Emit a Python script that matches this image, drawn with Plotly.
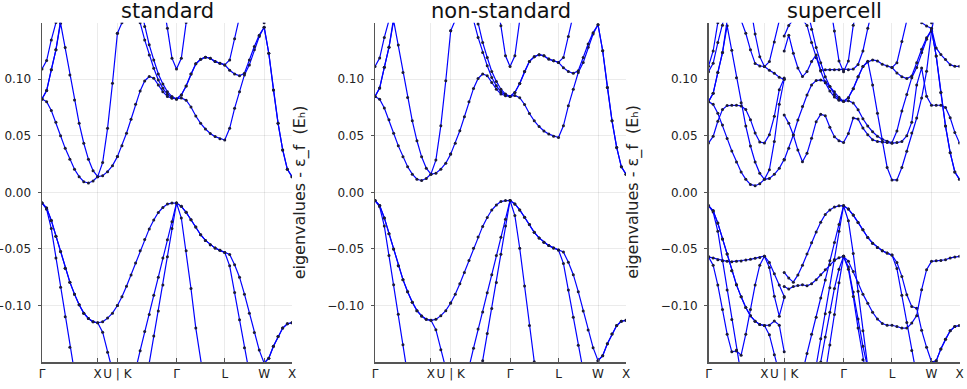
import plotly.graph_objects as go

# ---------------- k-path description ----------------
SEG_LEN = [1.0, 0.35355, 1.06066, 0.86603, 0.70711, 0.5]   # Γ-X, X-U, K-Γ, Γ-L, L-W, W-X
SEG_N = [12, 4, 13, 10, 8, 6]                                # intervals per segment
TICK_LABELS = ["Γ", "X", "U | K", "Γ", "L", "W", "X"]
PANEL_TITLES = ["standard", "non-standard", "supercell"]

# ---------------- eigenvalues (mEh), branch A: Γ→X→U (17 pts), branch B: K→Γ→L→W→X (38 pts) ----
# panel 1: standard
S_A2 = [-9.4, -15, -32, -58, -84, -110, -137, -163, -190, -210, -222, -228, -230, -228, -222, -215, -210]
S_A3 = [-9.4, -13.9, -24.8, -38.9, -52.2, -67, -79.4, -90, -99.4, -106.8, -111.5, -114.5, -115.3, -123.6, -141.3, -159, -175]
S_A4 = [-9.4, -13.9, -24.8, -38.9, -52.2, -67, -79.4, -90, -99.4, -106.8, -111.5, -114.5, -115.3, -114.5, -111.2, -106.8, -100]
S_A5 = [82.6, 80.2, 72.3, 61.9, 50.1, 38.9, 29.2, 20.4, 13.9, 9.4, 8.3, 10, 13.9, 14.7, 18.3, 23.6, 31.6]
S_A6 = [82.6, 90, 108.3, 126, 149.6, 128, 103.8, 81.7, 61, 43.4, 29.2, 19.2, 13.9, 26.3, 56.6, 96.5, 140.7]
S_A7 = [82.6, 90, 108.3, 126, 152, 168, 180, 190, 200, 210, 215, 218, 220, 215, 205, 195, 185]
S_A8 = [109.1, 116.5, 134.8, 150.1, 165, 175, 185, 195, 205, 215, 222, 226, 228, 226, 222, 218, 215]
S_B2 = [-210, -205, -200, -195, -190, -185, -180, -151, -127, -105, -82, -57, -32, -9.4,
        -22.7, -51.6, -85, -120, -152, -175, -195, -210, -220, -225,
        -228, -230, -235, -240, -245, -250, -250, -250, -248, -245, -240, -235, -232, -230]
S_B3 = [-175, -172, -168, -163, -157, -140, -123, -108, -91, -75, -58, -42, -26, -9.4,
        -12.4, -17.7, -24.2, -30.7, -37.5, -42.5, -46.3, -49.3, -51.3, -53.1,
        -65, -88.5, -112.7, -137.5, -160, -165, -160, -151, -146.6, -136, -127.4, -120, -116.2, -115.3]
S_B4 = [-100, -92.3, -83, -73, -62.5, -51.7, -41.6, -32.3, -24.4, -17.8, -13.4, -10.4, -9.5, -9.4,
        -12.4, -17.7, -24.2, -30.7, -37.5, -42.5, -46.3, -49.3, -51.3, -53.1,
        -55, -64, -75, -90, -107, -124, -139.5, -151, -146.6, -136, -127.4, -120, -116.2, -115.3]
S_B5 = [31.6, 41.3, 52.2, 64.6, 77.9, 89.7, 98.5, 102.4, 100.9, 95, 89, 84.7, 83.2, 82.6,
        83.5, 81.5, 75.5, 67.5, 61, 56, 52, 49.3, 47.5, 46.3,
        56.6, 74.3, 89, 103.8, 112.7, 126, 137.8, 146, 123, 90.6, 61, 37.5, 20.4, 13.9]
S_B6 = [140.7, 150, 155, 157, 155, 150, 134.8, 121.5, 109.7, 99.4, 92, 86.7, 83.8, 82.6,
        86.1, 94.1, 104.7, 113.6, 117.7, 119.5, 118.6, 115.6, 114.2, 112.7,
        108, 104.7, 103, 105.3, 117, 129, 139, 146, 123, 90.6, 61, 37.5, 20.4, 13.9]
S_B7 = [160, 165, 170, 172, 170, 165, 146.6, 130.4, 117, 104.7, 95.9, 89, 84.7, 82.6,
        86.1, 94.1, 104.7, 113.6, 117.7, 119.5, 118.6, 115.6, 114.2, 112.7,
        117, 135.7, 155, 165, 165, 160, 155, 150, 165, 175, 185, 190, 195, 198]
S_B8 = [190, 195, 198, 200, 198, 195, 190, 185, 180, 175, 170, 145, 118.6, 109.1,
        118.6, 150.1, 170, 185, 195, 200, 205, 205, 205, 205,
        200, 195, 190, 185, 180, 175, 170, 165, 170, 180, 190, 195, 198, 200]

# panel 2: non-standard
N_A2 = [-7.2, -12.8, -29.8, -55.8, -81.8, -107.8, -134.8, -160.8, -187.8, -207.8, -219.8, -225.8, -227.8, -225.8, -219.8, -212.8, -207.8]
N_A3 = [-7.2, -11.7, -22.6, -36.7, -50, -64.8, -77.2, -87.8, -97.2, -104.6, -109.3, -112.3, -113.1, -121.4, -139.1, -156.8, -172.8]
N_A4 = [-7.2, -11.7, -22.6, -36.7, -50, -64.8, -77.2, -87.8, -97.2, -104.6, -109.3, -112.3, -113.1, -112.3, -109, -104.6, -97.8]
N_A5 = [84.8, 82.4, 74.5, 64.1, 52.3, 41.1, 31.4, 22.6, 16.1, 11.6, 10.5, 12.2, 16.1, 16.9, 20.5, 25.8, 33.8]
N_A6 = [84.8, 92.2, 110.5, 128.2, 151.8, 130.2, 106, 83.9, 63.2, 45.6, 31.4, 21.4, 16.1, 28.5, 58.8, 98.7, 142.9]
N_A7 = [84.8, 92.2, 110.5, 128.2, 154.2, 170.2, 182.2, 192.2, 202.2, 212.2, 217.2, 220.2, 222.2, 217.2, 207.2, 197.2, 187.2]
N_A8 = [111.3, 118.7, 137, 152.3, 167.2, 177.2, 187.2, 197.2, 207.2, 217.2, 224.2, 228.2, 230.2, 228.2, 224.2, 220.2, 217.2]
N_B2 = [-207.8, -202.8, -197.8, -192.8, -187.8, -182.8, -177.8, -148.8, -124.8, -102.8, -79.8, -54.8, -29.8, -7.2,
        -20.5, -49.4, -82.8, -117.8, -149.8, -172.8, -192.8, -207.8, -217.8, -222.8,
        -225.8, -227.8, -232.8, -237.8, -242.8, -247.8, -247.8, -247.8, -245.8, -242.8, -237.8, -232.8, -229.8, -227.8]
N_B3 = [-172.8, -169.8, -165.8, -160.8, -154.8, -137.8, -120.8, -105.8, -88.8, -72.8, -55.8, -39.8, -23.8, -7.2,
        -10.2, -15.5, -22, -28.5, -35.3, -40.3, -44.1, -47.1, -49.1, -50.9,
        -62.8, -86.3, -110.5, -135.3, -157.8, -162.8, -157.8, -148.8, -144.4, -133.8, -125.2, -117.8, -114, -113.1]
N_B4 = [-97.8, -90.1, -80.8, -70.8, -60.3, -49.5, -39.4, -30.1, -22.2, -15.6, -11.2, -8.2, -7.3, -7.2,
        -10.2, -15.5, -22, -28.5, -35.3, -40.3, -44.1, -47.1, -49.1, -50.9,
        -52.8, -61.8, -72.8, -87.8, -104.8, -121.8, -137.3, -148.8, -144.4, -133.8, -125.2, -117.8, -114, -113.1]
N_B5 = [33.8, 43.5, 54.4, 66.8, 80.1, 91.9, 100.7, 104.6, 103.1, 97.2, 91.2, 86.9, 85.4, 84.8,
        85.7, 83.7, 77.7, 69.7, 63.2, 58.2, 54.2, 51.5, 49.7, 48.5,
        58.8, 76.5, 91.2, 106, 114.9, 128.2, 140, 148.2, 125.2, 92.8, 63.2, 39.7, 22.6, 16.1]
N_B6 = [142.9, 152.2, 157.2, 159.2, 157.2, 152.2, 137, 123.7, 111.9, 101.6, 94.2, 88.9, 86, 84.8,
        88.3, 96.3, 106.9, 115.8, 119.9, 121.7, 120.8, 117.8, 116.4, 114.9,
        110.2, 106.9, 105.2, 107.5, 119.2, 131.2, 141.2, 148.2, 125.2, 92.8, 63.2, 39.7, 22.6, 16.1]
N_B7 = [162.2, 167.2, 172.2, 174.2, 172.2, 167.2, 148.8, 132.6, 119.2, 106.9, 98.1, 91.2, 86.9, 84.8,
        88.3, 96.3, 106.9, 115.8, 119.9, 121.7, 120.8, 117.8, 116.4, 114.9,
        119.2, 137.9, 157.2, 167.2, 167.2, 162.2, 157.2, 152.2, 167.2, 177.2, 187.2, 192.2, 197.2, 200.2]
N_B8 = [192.2, 197.2, 200.2, 202.2, 200.2, 197.2, 192.2, 187.2, 182.2, 177.2, 172.2, 147.2, 120.8, 111.3,
        120.8, 152.3, 172.2, 187.2, 197.2, 202.2, 207.2, 207.2, 207.2, 207.2,
        202.2, 197.2, 192.2, 187.2, 182.2, 177.2, 172.2, 167.2, 172.2, 182.2, 192.2, 197.2, 200.2, 202.2]

# panel 3: supercell
X_A2 = [-11.8, -17.4, -34.4, -60.4, -86.4, -112.4, -139.4, -165.4, -192.4, -212.4, -224.4, -230.4, -232.4, -230.4, -224.4, -217.4, -212.4]
X_A3 = [-11.8, -16.3, -27.2, -41.3, -54.6, -69.4, -81.8, -92.4, -101.8, -109.2, -113.9, -116.9, -117.7, -126, -143.7, -161.4, -177.4]
X_A4 = [-11.8, -16.3, -27.2, -41.3, -54.6, -69.4, -81.8, -92.4, -101.8, -109.2, -113.9, -116.9, -117.7, -117.4, -113.7, -117.4, -141]
X_AV1 = [-57, -58, -59.5, -60.5, -61, -61.3, -61, -60.7, -59.8, -59.2, -58.3, -57.5, -56.4, -66.4, -91.8, -109.5, -93]
X_AV2 = [-57, -64.4, -82, -103.6, -125.4, -141, -140.2, -144, -125.4, -103.6, -82, -64.4, -56.4, -62, -72, -82, -92]
X_A5 = [80.2, 77.8, 69.9, 59.5, 47.7, 36.5, 26.8, 18, 11.5, 7, 5.9, 7.6, 11.5, 12.3, 15.9, 21.2, 29.2]
X_A6 = [80.2, 87.6, 105.9, 123.6, 147.2, 125.6, 101.4, 79.3, 58.6, 41, 26.8, 16.8, 11.5, 20, 45, 78, 100]
X_A7 = [80.2, 87.6, 105.9, 123.6, 152, 168, 180, 190, 200, 210, 215, 218, 220, 215, 205, 195, 185]
X_A8 = [106.7, 114.1, 132.4, 147.7, 165, 175, 185, 195, 205, 215, 222, 226, 228, 226, 222, 218, 215]
X_AC1 = [43.6, 49.5, 62.8, 73.2, 76.7, 77, 77, 76.4, 73.2, 64.3, 52.5, 44.5, 43.6, 51, 67.2, 90.8, 101]
X_AC2 = [111.5, 125, 150, 170, 185, 195, 195, 190, 180, 165, 140, 120, 111.2, 108, 105.3, 101.8, 99.9]
X_AC3 = [200, 195, 190, 185, 178, 170, 160, 152, 140.7, 126, 114, 111.8, 111.2, 115.6, 133, 152, 170]
X_B2 = [-212.4, -207.4, -202.4, -197.4, -192.4, -187.4, -182.4, -153.4, -129.4, -107.4, -84.4, -59.4, -34.4, -11.8,
        -25.1, -54, -87.4, -122.4, -154.4, -177.4, -197.4, -212.4, -222.4, -227.4,
        -230.4, -232.4, -237.4, -242.4, -247.4, -252.4, -252.4, -252.4, -250.4, -247.4, -242.4, -237.4, -234.4, -232.4]
X_B3 = [-177.4, -174.4, -170.4, -165.4, -159.4, -142.4, -125.4, -110.4, -93.4, -77.4, -60.4, -44.4, -28.4, -11.8,
        -14.8, -20.1, -26.6, -33.1, -39.9, -44.9, -48.7, -51.7, -53.7, -55.5,
        -67.4, -90.9, -115.1, -139.9, -162.4, -167.4, -162.4, -153.4, -149, -138.4, -129.8, -122.4, -118.6, -117.7]
X_B4 = [-70.8, -75.8, -79.4, -73, -64.5, -54.5, -44.5, -35, -26.5, -19.5, -15.5, -13, -11.9, -11.8,
        -14.8, -20.1, -26.6, -33.1, -39.9, -44.9, -48.7, -51.7, -53.7, -55.5,
        -62, -74.3, -90.6, -100.9, -102.4, -122, -137, -150, -149, -138.4, -129.8, -122.4, -118.6, -117.7]
X_BV1 = [-83.2, -85.5, -83.2, -82.3, -81.7, -82.6, -80.8, -77.3, -72.9, -68.4, -64, -60.2, -57.8, -56.6,
         -61, -70, -80, -90, -98, -106, -112, -116, -117.5, -117.5,
         -118.6, -120, -120, -115.6, -109, -86.1, -68.4, -61, -60.5, -60.2, -59.6, -58, -57.2, -56.6]
X_BV2 = [-250, -245, -240, -235, -230, -225, -220, -210, -150, -128, -106, -85, -68, -56.6,
         -66, -88, -112, -136, -158, -175, -190, -200, -205, -210,
         -215, -220, -225, -230, -235, -240, -245, -250, -245, -240, -235, -230, -225, -220]
X_BV3 = [-250, -245, -240, -235, -230, -225, -220, -210, -190, -160, -135, -108, -80, -56.6,
         -68, -92, -120, -148, -170, -185, -195, -205, -210, -215,
         -220, -225, -230, -235, -240, -245, -250, -250, -245, -240, -235, -230, -225, -220]
X_B5 = [28.6, 38.9, 50.7, 64, 75.8, 86.1, 95, 98.8, 99.4, 97.9, 93.5, 89, 84, 80.5,
        81.1, 79.1, 73.1, 65.1, 58.6, 53.6, 49.6, 46.9, 45.1, 43.9,
        54.2, 71.9, 86.6, 101.4, 110.3, 123.6, 135.4, 143.6, 120.6, 88.2, 58.6, 35.1, 18, 11.5]
X_B6 = [138.3, 147.6, 152.6, 154.6, 152.6, 147.6, 132.4, 119.1, 107.3, 97, 89.6, 84.3, 81.4, 80.5,
        83.7, 91.7, 102.3, 111.2, 115.3, 117.1, 116.2, 113.2, 111.8, 110.3,
        105.6, 102.3, 100.6, 102.9, 114.6, 126.6, 136.6, 143.6, 120.6, 88.2, 58.6, 35.1, 18, 11.5]
X_B7 = [157.6, 162.6, 167.6, 169.6, 167.6, 162.6, 144.2, 128, 114.6, 102.3, 93.5, 86.6, 82.3, 80.5,
        83.7, 91.7, 102.3, 111.2, 116, 95, 70, 45, 22, 11,
        11, 22, 36.3, 52.5, 65.7, 83.5, 107, 142.4, 165, 175, 185, 190, 195, 198]
X_B7B = [None] * 23 + [110.3, 114.6, 133.3, 152, 165, 165, 160, 155, 150, 165, 175, 185, 190, 195, 198]
X_B8 = [188, 193, 196, 198, 196, 193, 188, 183, 178, 173, 168, 142.6, 116.2, 106.7,
        116.2, 147.7, 168, 183, 193, 198, 203, 203, 203, 203,
        198, 193, 188, 183, 178, 173, 168, 163, 168, 178, 188, 193, 196, 198]
X_BC1 = [68.4, 61, 50.7, 37.4, 27.1, 34.5, 47.8, 62.5, 69, 67.8, 57.5, 49.2, 45.7, 44,
         52, 65.7, 64.8, 56.8, 51, 46.6, 45, 44.5, 44, 43.5,
         44, 45, 50, 62, 95, 110, 85, 77, 77, 77, 75, 66, 53, 43.6]
X_BC2 = [125, 139, 123, 110, 102.4, 106.8, 115.6, 121.5, 108, 108.5, 108.5, 108.5, 108.5, 108.5,
         108.5, 109, 113, 125, 145, 165, 180, 190, 195, 200,
         195, 190, 180, 170, 160, 150, 147, 145, 127.7, 121.8, 117.4, 112.9, 111.4, 111.4]

PANEL_A = [
    [S_A2, S_A3, S_A4, S_A5, S_A6, S_A7, S_A8],
    [N_A2, N_A3, N_A4, N_A5, N_A6, N_A7, N_A8],
    [X_A2, X_A3, X_A4, X_AV1, X_AV2, X_A5, X_A6, X_A7, X_A8, X_AC1, X_AC2, X_AC3],
]
PANEL_B = [
    [S_B2, S_B3, S_B4, S_B5, S_B6, S_B7, S_B8],
    [N_B2, N_B3, N_B4, N_B5, N_B6, N_B7, N_B8],
    [X_B2, X_B3, X_B4, X_BV1, X_BV2, X_BV3, X_B5, X_B6, X_B7, X_B7B, X_B8, X_BC1, X_BC2],
]

# ---------------- k coordinates ----------------
def seg_points(first, last):
    start = sum(SEG_LEN[:first])
    xs = [start]
    for s in range(first, last + 1):
        for i in range(1, SEG_N[s] + 1):
            xs.append(start + SEG_LEN[s] * i / SEG_N[s])
        start += SEG_LEN[s]
    return xs

KA = seg_points(0, 1)
KB = seg_points(2, 5)
TICK_POS = [0.0]
for L in SEG_LEN:
    TICK_POS.append(TICK_POS[-1] + L)
KMAX = TICK_POS[-1]

W, H = 967, 389
X_DOM = [(42 / W, 292 / W), (375 / W, 626 / W), (708.5 / W, 959.5 / W)]
Y_DOM = (1 - 362 / H, 1 - 22.7 / H)

LINE_C = "#0000ff"
MARK_C = "#1a1a38"
FONT = "DejaVu Sans"

fig = go.Figure()

def add_band(panel, xs, vals):
    ys = [None if v is None else v / 1000.0 for v in vals]
    ax = "" if panel == 0 else str(panel + 1)
    fig.add_trace(go.Scatter(
        x=xs, y=ys, mode="lines+markers", xaxis="x" + ax, yaxis="y" + ax,
        line=dict(color=LINE_C, width=1.2),
        marker=dict(color=MARK_C, size=3, line=dict(width=0)),
        hoverinfo="skip", showlegend=False, connectgaps=False))

for p in range(3):
    for band in PANEL_A[p]:
        add_band(p, KA, band)
    for band in PANEL_B[p]:
        add_band(p, KB, band)

layout = dict(
    width=W, height=H, margin=dict(l=0, r=0, t=0, b=0, pad=0, autoexpand=False),
    paper_bgcolor="white", plot_bgcolor="white", showlegend=False,
    font=dict(family=FONT, color="#222", size=12),
)
annotations = []
for p in range(3):
    ax = "" if p == 0 else str(p + 1)
    layout["xaxis" + ax] = dict(
        domain=X_DOM[p], range=[0, KMAX], anchor="y" + ax, automargin=False,
        tickmode="array", tickvals=TICK_POS, ticktext=TICK_LABELS, tickangle=0,
        showgrid=True, gridcolor="rgba(0,0,0,0.08)", gridwidth=1,
        showline=True, linecolor="#555", linewidth=1.5,
        ticks="inside", ticklen=4, tickcolor="#555",
        tickfont=dict(size=12, family=FONT, color="#222"), zeroline=False)
    layout["yaxis" + ax] = dict(
        domain=Y_DOM, range=[-0.15, 0.15], anchor="x" + ax, automargin=False,
        tickmode="array", tickvals=[-0.10, -0.05, 0.0, 0.05, 0.10], tickformat=".2f",
        showgrid=True, gridcolor="rgba(0,0,0,0.08)", gridwidth=1,
        showline=True, linecolor="#555", linewidth=1.5,
        ticks="outside", ticklen=3, tickcolor="#555", ticklabelstandoff=4,
        tickfont=dict(size=12, family=FONT, color="#222"), zeroline=False)
    xc = (X_DOM[p][0] + X_DOM[p][1]) / 2
    annotations.append(dict(text=PANEL_TITLES[p], x=xc, y=1 - 11 / H, xref="paper", yref="paper",
                            showarrow=False, font=dict(size=21, family=FONT, color="#111"),
                            xanchor="center", yanchor="middle"))
    annotations.append(dict(text="eigenvalues - ε_f\u00a0\u00a0(Eₕ)", textangle=-90,
                            x=(X_DOM[p][0] * W - 75) / W, y=(Y_DOM[0] + Y_DOM[1]) / 2,
                            xref="paper", yref="paper", showarrow=False,
                            font=dict(size=16, family=FONT, color="#222"),
                            xanchor="center", yanchor="middle"))
layout["annotations"] = annotations
fig.update_layout(**layout)
fig.write_html("out.html", config={"displayModeBar": False, "staticPlot": True},
               post_script="document.body.style.margin='0px';document.body.style.overflow='hidden';")
